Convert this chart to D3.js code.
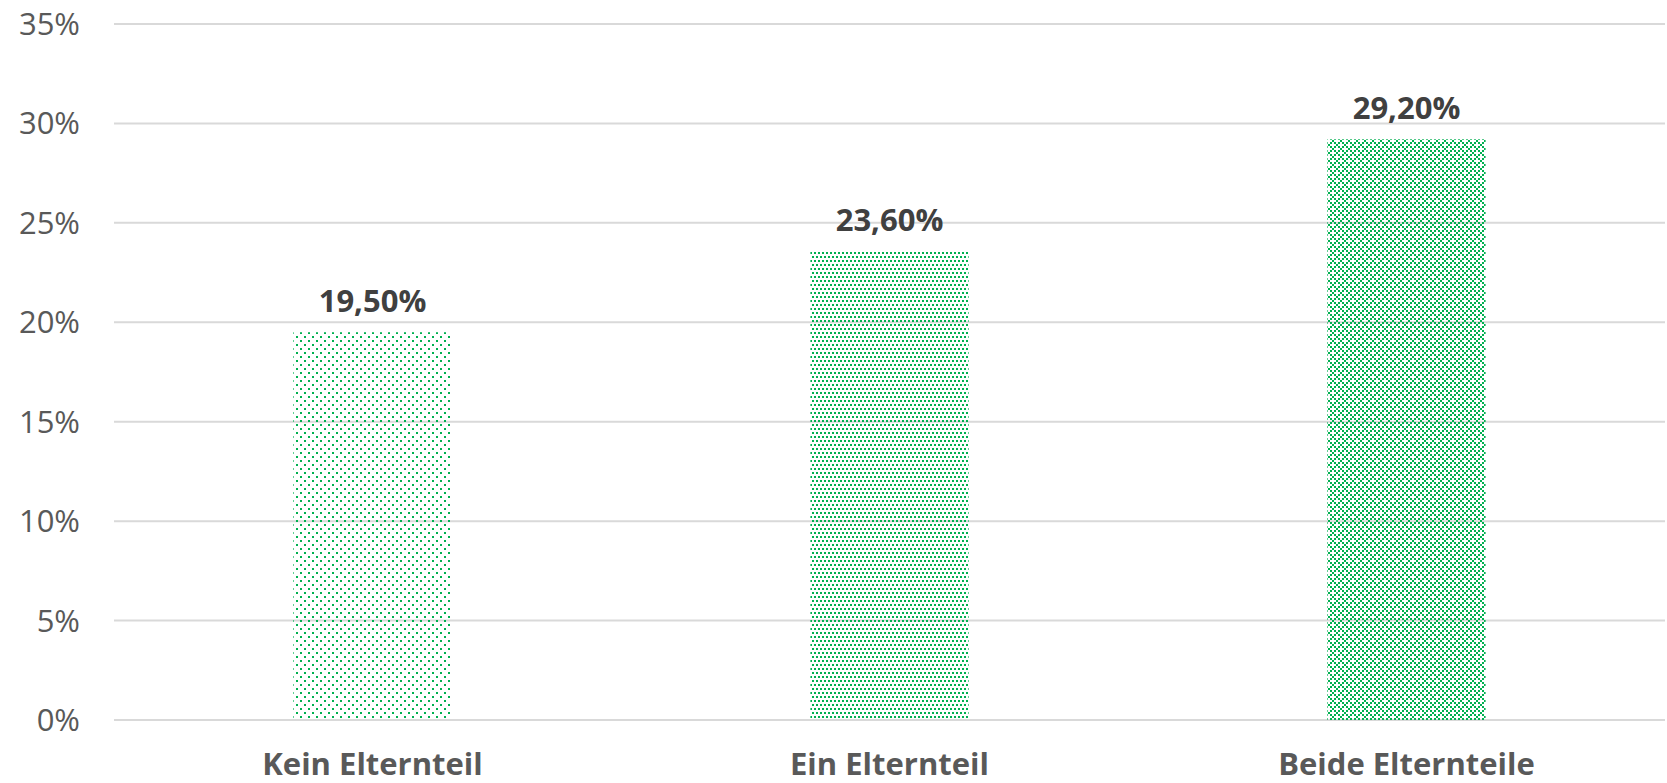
<!DOCTYPE html>
<html>
<head>
<meta charset="utf-8">
<script src="https://cdn.jsdelivr.net/npm/d3@7"></script>
<style>
  body { margin: 0; background: #fff; }
  text { font-family: "Open Sans", sans-serif; }
</style>
</head>
<body>
<script>
// DATA
var categories = ["Kein Elternteil", "Ein Elternteil", "Beide Elternteile"];
var values = [0.195, 0.236, 0.292];
var yTicks = [0, 0.05, 0.10, 0.15, 0.20, 0.25, 0.30, 0.35];

var w = 1667, h = 783;
var plotLeft = 114, plotRight = 1665, plotTop = 24, plotBottom = 720;
var green = "#00b050";

var de = d3.formatLocale({decimal: ",", thousands: ".", grouping: [3], currency: ["", " €"]});
var fmtTick = de.format(".0%");
var fmtVal = de.format(".2%");

var svg = d3.select("body").append("svg")
    .attr("width", w)
    .attr("height", h);

// patterns, one per bar
var defs = svg.append("defs");

function pattern(id, size, cells, cell) {
    var p = defs.append("pattern")
        .attr("id", id)
        .attr("patternUnits", "userSpaceOnUse")
        .attr("width", size[0])
        .attr("height", size[1]);
    p.selectAll("rect")
        .data(cells)
        .enter()
        .append("rect")
        .attr("x", function(d) { return d[0]; })
        .attr("y", function(d) { return d[1]; })
        .attr("width", cell)
        .attr("height", cell)
        .attr("fill", green);
}
pattern("p0", [8, 8], [[0, 0], [4, 4]], 2);
pattern("p1", [4, 8], [[0, 0], [2, 4]], 2);
var xc = [];
for (var cy = 0; cy < 4; cy++) {
    for (var cx = 0; cx < 4; cx++) {
        if ((cx + cy) % 4 == 0 || (cx - cy + 4) % 4 == 0) xc.push([cx * 2, cy * 2]);
    }
}
pattern("p2", [8, 8], xc, 2);

var x = d3.scaleBand()
    .domain(categories)
    .range([plotLeft, plotRight])
    .paddingInner(0.694)
    .paddingOuter(0.347);

var y = d3.scaleLinear()
    .domain([0, 0.35])
    .range([plotBottom, plotTop]);

// gridlines
svg.selectAll("line.grid")
   .data(yTicks)
   .enter()
   .append("line")
   .attr("class", "grid")
   .attr("x1", plotLeft)
   .attr("x2", plotRight)
   .attr("y1", function(d) { return y(d); })
   .attr("y2", function(d) { return y(d); })
   .attr("stroke", "#d9d9d9")
   .attr("stroke-width", 2);

// y axis labels
svg.selectAll("text.tick")
   .data(yTicks)
   .enter()
   .append("text")
   .attr("class", "tick")
   .attr("x", 80)
   .attr("y", function(d) { return y(d) + 11; })
   .attr("text-anchor", "end")
   .attr("font-size", "31px")
   .attr("fill", "#595959")
   .text(function(d) { return fmtTick(d); });

// bars
svg.selectAll("rect.bar")
   .data(values)
   .enter()
   .append("rect")
   .attr("class", "bar")
   .attr("x", function(d, i) { return x(categories[i]); })
   .attr("y", function(d) { return y(d); })
   .attr("width", x.bandwidth())
   .attr("height", function(d) { return y(0) - y(d); })
   .attr("fill", function(d, i) { return "url(#p" + i + ")"; });

// value labels
svg.selectAll("text.val")
   .data(values)
   .enter()
   .append("text")
   .attr("class", "val")
   .attr("x", function(d, i) { return x(categories[i]) + x.bandwidth() / 2; })
   .attr("y", function(d) { return y(d) - 20; })
   .attr("text-anchor", "middle")
   .attr("font-size", "31px")
   .attr("font-weight", "bold")
   .attr("fill", "#404040")
   .text(function(d) { return fmtVal(d); });

// category labels
svg.selectAll("text.cat")
   .data(categories)
   .enter()
   .append("text")
   .attr("class", "cat")
   .attr("x", function(d) { return x(d) + x.bandwidth() / 2; })
   .attr("y", 775)
   .attr("text-anchor", "middle")
   .attr("font-size", "31px")
   .attr("font-weight", "bold")
   .attr("fill", "#595959")
   .text(function(d) { return d; });
</script>
</body>
</html>
